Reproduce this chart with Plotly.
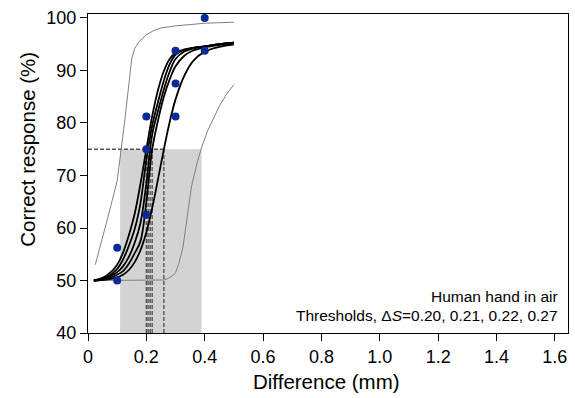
import plotly.graph_objects as go

FONT = "Liberation Sans, Arial, sans-serif"

# --- data ---
pts_x = [0.1, 0.1, 0.2, 0.2, 0.2, 0.3, 0.3, 0.3, 0.4, 0.4]
pts_y = [50.0, 56.25, 62.5, 75.0, 81.25, 81.25, 87.5, 93.75, 93.75, 100.0]

fit_x = [0.02, 0.05, 0.08, 0.10, 0.12, 0.14, 0.16, 0.18, 0.20, 0.22, 0.24, 0.26, 0.28, 0.30, 0.33, 0.36, 0.40, 0.45, 0.50]
fit_a = [50.0, 50.5, 51.7, 53.0, 55.3, 58.6, 62.7, 68.5, 75.0, 81.3, 86.3, 89.9, 92.2, 93.4, 94.0, 94.3, 94.6, 95.0, 95.3]
fit_b = [50.0, 50.3, 51.2, 52.2, 54.0, 56.6, 59.8, 64.8, 73.0, 79.5, 84.0, 88.1, 91.2, 93.0, 93.9, 94.3, 94.6, 95.0, 95.3]
fit_c = [50.0, 50.2, 50.9, 51.6, 52.7, 54.5, 57.2, 61.0, 68.5, 77.8, 82.3, 86.4, 89.8, 92.2, 93.6, 94.2, 94.6, 95.0, 95.3]
fit_d = [50.0, 50.1, 50.6, 51.1, 51.8, 53.2, 55.2, 57.5, 65.0, 75.0, 80.5, 85.0, 88.3, 90.8, 92.8, 93.8, 94.4, 94.9, 95.2]
fit_e = [50.0, 50.1, 50.3, 50.6, 51.1, 52.0, 53.5, 55.8, 59.2, 63.8, 69.3, 75.0, 80.2, 84.5, 89.0, 91.8, 93.6, 94.5, 95.0]

upper_x = [0.025, 0.05, 0.075, 0.10, 0.125, 0.15, 0.16, 0.175, 0.20, 0.225, 0.25, 0.30, 0.40, 0.50]
upper_y = [53.0, 58.0, 63.5, 69.0, 80.0, 92.3, 94.2, 95.5, 96.8, 97.6, 98.1, 98.5, 99.0, 99.2]

lower_x = [0.025, 0.10, 0.20, 0.26, 0.275, 0.29, 0.30, 0.31, 0.325, 0.34, 0.355, 0.375, 0.39, 0.41, 0.43, 0.45, 0.475, 0.50]
lower_y = [50.0, 50.0, 50.0, 50.1, 50.4, 50.9, 51.5, 53.0, 56.2, 62.5, 68.0, 72.6, 75.5, 78.5, 80.8, 83.2, 85.5, 87.3]

thresholds = [0.200, 0.206, 0.213, 0.220, 0.260]
criterion = 75
ci_low, ci_high = 0.11, 0.389

x_ticks = [0, 0.2, 0.4, 0.6, 0.8, 1.0, 1.2, 1.4, 1.6]
x_ticktext = ["0", "0.2", "0.4", "0.6", "0.8", "1.0", "1.2", "1.4", "1.6"]
y_ticks = [40, 50, 60, 70, 80, 90, 100]

x_title = "Difference (mm)"
y_title = "Correct response (%)"
label1 = "Human hand in air"
label2 = "Thresholds, \u0394<i>S</i>=0.20, 0.21, 0.22, 0.27"

fig = go.Figure()

# shaded confidence region
fig.add_shape(type="rect", xref="x", yref="y", x0=ci_low, x1=ci_high, y0=40, y1=criterion,
              fillcolor="#d3d3d3", line=dict(width=0), layer="below")

# dashed threshold lines
dx, dy = [0, max(thresholds)], [criterion, criterion]
for t in thresholds:
    dx += [None, t, t]
    dy += [None, 40, criterion]
fig.add_trace(go.Scatter(x=dx, y=dy, mode="lines",
                         line=dict(color="#555555", width=1.4, dash="4px,2px"), hoverinfo="skip"))

# grey bound curves
for xs, ys in [(upper_x, upper_y), (lower_x, lower_y)]:
    fig.add_trace(go.Scatter(x=xs, y=ys, mode="lines",
                             line=dict(color="#808080", width=1)))

# fitted curves
for ys in [fit_a, fit_b, fit_c, fit_d, fit_e]:
    fig.add_trace(go.Scatter(x=fit_x, y=ys, mode="lines", line_shape="spline",
                             line=dict(color="black", width=1.8)))

# data points
fig.add_trace(go.Scatter(x=pts_x, y=pts_y, mode="markers",
                         marker=dict(color="#0b2a97", size=8)))

ann_font = dict(family=FONT, size=15.5, color="black")
fig.add_annotation(xref="paper", yref="y", x=1, y=47.0, xanchor="right", yanchor="middle",
                   xshift=-8, text=label1, showarrow=False, font=ann_font)
fig.add_annotation(xref="paper", yref="y", x=1, y=43.3, xanchor="right", yanchor="middle",
                   xshift=-8, text=label2, showarrow=False, font=ann_font)

title_font = dict(family=FONT, size=20.5, color="black")
fig.add_annotation(xref="paper", yref="paper", x=0.497, y=-0.1536, xanchor="center", yanchor="middle",
                   text=x_title, showarrow=False, font=title_font)
fig.add_annotation(xref="paper", yref="paper", x=-0.1255, y=0.577, xanchor="center", yanchor="middle",
                   text=y_title, textangle=-90, showarrow=False, font=title_font)

axis_common = dict(showline=True, linecolor="black", linewidth=1.3, mirror=True,
                   ticks="outside", ticklen=7, tickwidth=1.3, tickcolor="black",
                   showgrid=False, zeroline=False, automargin=False,
                   tickfont=dict(family=FONT, size=18, color="black"))

fig.update_xaxes(range=[0, 1.645], tickvals=x_ticks, ticktext=x_ticktext, **axis_common)
fig.update_yaxes(range=[40, 100.76], tickvals=y_ticks, **axis_common)

fig.update_layout(width=575, height=398, showlegend=False,
                  margin=dict(l=88, r=7, t=14, b=65, autoexpand=False),
                  plot_bgcolor="white", paper_bgcolor="white",
                  font=dict(family=FONT))

fig.write_html("out.html", config={"displayModeBar": False})

# remove the browser's default page margin so the figure sits at the window origin
with open("out.html", "r", encoding="utf-8") as f:
    html = f.read()
html = html.replace("<body>", '<body style="margin:0;padding:0;overflow:hidden">', 1)
html = html.replace("<head>", "<head><style>html,body{margin:0;padding:0;}</style>", 1)
with open("out.html", "w", encoding="utf-8") as f:
    f.write(html)
